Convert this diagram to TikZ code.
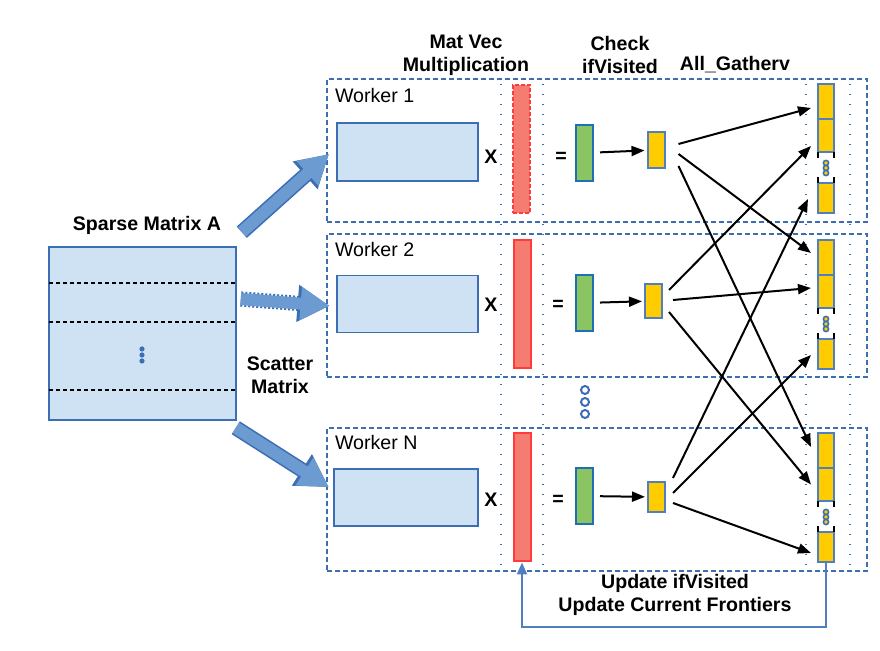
\documentclass[tikz,border=0pt]{standalone}
\usepackage{fontspec}
\setmainfont{Liberation Sans}
\usetikzlibrary{arrows.meta,calc}
\definecolor{matfill}{HTML}{CFE2F3}
\definecolor{edgeblue}{HTML}{3C6EB4}
\definecolor{arrowblue}{HTML}{6C9BD2}
\definecolor{vecred}{HTML}{F47C70}
\definecolor{redline}{HTML}{FF3B3B}
\definecolor{vecgreen}{HTML}{8BC462}
\definecolor{greenline}{HTML}{1F6FB5}
\definecolor{vecyellow}{HTML}{FFCC00}
\definecolor{yedge}{HTML}{4F7FC0}
\begin{document}
\begin{tikzpicture}[x=0.5pt,y=-0.5pt,font=\fontsize{9.8pt}{11.5pt}\selectfont,
  lbl/.style={font=\fontsize{9.8pt}{11.5pt}\selectfont\bfseries,align=center},
  worker/.style={draw=edgeblue,line width=1pt,dash pattern=on 2.5pt off 1.5pt,minimum width=270pt,minimum height=71.5pt,inner sep=0pt},
  mat/.style={draw=edgeblue,fill=matfill,line width=0.8pt,inner sep=0pt},
  vec/.style={draw=redline,fill=vecred,line width=1pt,minimum width=8.5pt,minimum height=64pt,inner sep=0pt},
  res/.style={draw=greenline,fill=vecgreen,line width=1pt,minimum width=8.5pt,minimum height=28pt,inner sep=0pt},
  front/.style={draw=yedge,fill=vecyellow,line width=1pt,minimum width=8.5pt,inner sep=0pt},
  slot/.style={draw=yedge,fill=vecyellow,line width=1pt,minimum width=8pt,inner sep=0pt},
  conn/.style={line width=1pt,-{Triangle[length=6.5pt,width=5pt]}},
  bigarrow/.style={preaction={draw=edgeblue,line width=7.6pt,#1,-{Triangle[length=16pt,width=17.5pt]}},
    line width=6pt,arrowblue,shorten >=0.8pt,-{Triangle[length=14.5pt,width=15.5pt]}},
  bigarrow/.default={solid},
  dotline/.style={edgeblue,line width=1pt,dash pattern=on 0.6pt off 4.4pt}]
\useasboundingbox (0,0) rectangle (880,651);

\node[lbl] (lmv) at (466,55.5) {Mat Vec\\Multiplication};
\node[lbl] (lck) at (620,55.5) {Check\\ifVisited};
\node[lbl] (lag) at (735,65) {All\_Gatherv};

\node[worker] (wk1) at (597,151) {};
\node[worker] (wk2) at (597,305.5) {};
\node[worker] (wkN) at (597,499.5) {};
\node[anchor=west] (lw1) at (328,96) {Worker 1};
\node[anchor=west] (lw2) at (328,250) {Worker 2};
\node[anchor=west] (lwN) at (328,443) {Worker N};

\foreach \x in {501,543,806,850}
  \draw[dotline] (\x,84) -- (\x,572);

\node[lbl] (lsp) at (147,225) {Sparse Matrix A};
\node[mat,minimum width=93.5pt,minimum height=86.5pt] (A) at (142.5,333.5) {};
\foreach \y in {283,322,390}
  \draw[line width=0.8pt,dash pattern=on 2pt off 1.5pt] (49,\y) -- (236,\y);
\foreach \y in {349,355,361}
  \fill[edgeblue] (142,\y) circle (1.3pt);
\node[lbl] (lsc) at (280,375.5) {Scatter\\Matrix};

\node[mat,minimum width=70.5pt,minimum height=29pt] (m1) at (407.5,152) {};
\node[mat,minimum width=70.5pt,minimum height=28.5pt] (m2) at (407.5,304) {};
\node[mat,minimum width=72pt,minimum height=28.5pt] (mN) at (406,497.5) {};

\draw[bigarrow] ($(A.north east)+(5,-14)$) -- ($(m1.west)+(-6,1)$);
\draw[bigarrow={dash pattern=on 1pt off 1pt}] ($(A.east)+(4,-34.5)$) -- ($(m2.west)+(-5,2)$);
\draw[bigarrow] ($(A.south east)+(-1,7)$) -- ($(mN.west)+(-3,-9.5)$);

\node[lbl] (x1) at (491,157) {X};
\node[lbl] (x2) at (491,305) {X};
\node[lbl] (xN) at (491,500) {X};
\node[vec,dash pattern=on 2pt off 1pt] (v1) at (521.5,149) {};
\node[vec] (v2) at (522,304) {};
\node[vec] (vN) at (522,497.5) {};
\node[lbl] (e1) at (561,157) {=};
\node[lbl] (e2) at (558,305) {=};
\node[lbl] (eN) at (558,500) {=};

\node[res] (g1) at (584.5,153) {};
\node[res] (g2) at (584.5,303) {};
\node[res] (gN) at (584.5,496) {};
\node[front,minimum height=18pt] (y1) at (656,150) {};
\node[front,minimum height=17pt] (y2) at (653.5,301) {};
\node[front,minimum height=15pt] (yN) at (656.5,497) {};
\draw[conn,shorten <=3pt,shorten >=1pt] (g1) -- (y1);
\draw[conn,shorten <=3pt,shorten >=1pt] (g2) -- (y2);
\draw[conn,shorten <=3pt,shorten >=1pt] (gN) -- (yN);

\foreach \t/\n in {84/1,240/2,433/N}{
  \node[slot,minimum height=17.5pt] (s\n-a) at (826,{\t+17.5}) {};
  \node[slot,minimum height=16.5pt] (s\n-b) at (826,{\t+51.5}) {};
  \node[slot,minimum height=15pt] (s\n-c) at (826,{\t+114}) {};
  \draw[line width=0.7pt] (818,{\t+68}) -- (818,{\t+74}) (834,{\t+68}) -- (834,{\t+74});
  \draw[line width=0.7pt] (818,{\t+93}) -- (818,{\t+99}) (834,{\t+93}) -- (834,{\t+99});
  \foreach \d in {79,84,89}
    \draw[edgeblue,fill=vecyellow,line width=0.8pt] (826,{\t+\d}) circle (1.3pt);
}

\draw[conn] ($(y1.east)+(13,-6)$) -- ($(s1-a.west)+(-6,6.5)$);
\draw[conn] ($(y1.east)+(13,4)$) -- ($(s2-a.west)+(-6,-4.5)$);
\draw[conn] ($(y1.east)+(13,16)$) -- ($(sN-a.west)+(-6,-3.5)$);
\draw[conn] ($(y2.east)+(6,-11)$) -- ($(s1-b.west)+(-6,10.5)$);
\draw[conn] ($(y2.east)+(10,-1)$) -- ($(s2-b.west)+(-6,-3.5)$);
\draw[conn] ($(y2.east)+(6,11)$) -- ($(sN-b.west)+(-6,0)$);
\draw[conn] ($(yN.east)+(7,-19)$) -- ($(s1-c.west)+(-9,1)$);
\draw[conn] ($(yN.east)+(7,-4)$) -- ($(s2-c.west)+(-6,1)$);
\draw[conn] ($(yN.east)+(7,6)$) -- ($(sN-c.west)+(-6,6)$);

\foreach \y in {390,402,414}
  \draw[edgeblue,line width=1pt,fill=white] (585,\y) circle (2pt);

\node[lbl] (lup) at (675,594.5) {Update ifVisited\\Update Current Frontiers};
\draw[yedge,line width=1pt,-{Triangle[length=6pt,width=5pt]}] (sN-c.south) -- ++(0,64) -| (vN.south);
\end{tikzpicture}
\end{document}
